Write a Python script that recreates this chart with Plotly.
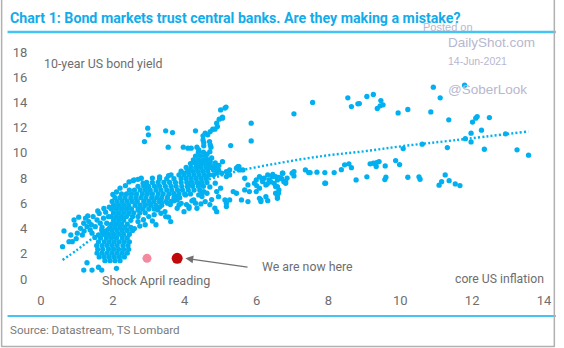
import plotly.graph_objects as go

# ---------------- data ----------------
# x = core US inflation, y = 10-year US bond yield
left_arm = [(0.64, 3.81), (0.60, 2.56), (0.92, 4.68), (0.95, 4.29), (0.83, 3.49), (0.87, 2.96),
            (1.01, 3.63), (1.10, 4.02), (1.15, 3.49), (1.19, 4.42), (1.24, 4.82), (1.33, 4.55),
            (1.37, 3.89), (1.28, 4.15), (1.42, 3.63), (1.51, 4.15), (1.56, 4.68), (1.65, 4.42),
            (1.74, 4.82), (1.83, 4.42), (1.88, 4.94), (1.69, 3.89), (1.60, 3.49), (1.79, 3.76),
            (1.92, 4.02), (0.78, 2.96), (1.05, 4.9), (1.45, 4.95), (1.62, 5.2), (1.8, 5.3),
            (1.2, 3.8), (1.5, 3.3), (1.7, 4.1), (0.98, 3.2), (1.4, 4.3), (1.58, 5.4), (1.75, 5.6),
            (1.9, 5.7), (1.3, 5.0)]
bottom_pts = [(1.19, 0.71), (1.28, 1.29), (1.42, 0.71), (1.60, 0.93), (1.69, 0.71), (2.10, 0.85)]

blob_rows = {
    1.45: [1.78, 1.92, 2.06, 2.2],
    1.75: [1.62, 1.76, 1.9, 2.04, 2.18, 2.32],
    2.05: [1.56, 1.7, 1.84, 1.98, 2.12, 2.26, 2.4],
    2.35: [1.58, 1.72, 1.88, 2.02, 2.16, 2.3, 2.44],
    2.65: [1.55, 1.7, 1.84, 1.98, 2.12, 2.28, 2.42],
    2.95: [1.6, 1.76, 1.9, 2.04, 2.18, 2.32, 2.46],
    3.25: [1.66, 1.82, 1.96, 2.1, 2.26, 2.4],
    3.55: [1.74, 1.88, 2.02, 2.16, 2.3, 2.46],
    3.85: [1.84, 1.98, 2.12, 2.26, 2.4, 2.55],
    4.1: [1.92, 2.06, 2.2, 2.34, 2.5],
}

band_rows = {
    4.35: [1.96, 2.1, 2.24, 2.4],
    4.65: [2.02, 2.16, 2.3, 2.5],
    4.95: [1.96, 2.1, 2.24, 2.38, 2.55, 2.7],
    5.25: [2.02, 2.16, 2.3, 2.44, 2.58, 2.75, 2.9],
    5.55: [1.96, 2.1, 2.24, 2.38, 2.52, 2.7, 2.84, 3.0, 3.15],
    5.85: [2.02, 2.16, 2.3, 2.44, 2.62, 2.76, 2.9, 3.06, 3.2, 3.36],
    6.15: [1.98, 2.12, 2.26, 2.4, 2.54, 2.68, 2.86, 3.0, 3.14, 3.3, 3.48, 3.62],
    6.45: [2.06, 2.2, 2.34, 2.5, 2.64, 2.78, 2.92, 3.08, 3.22, 3.36, 3.52, 3.7, 3.86],
    6.75: [2.24, 2.38, 2.52, 2.66, 2.82, 2.96, 3.1, 3.26, 3.4, 3.56, 3.7, 3.84, 4.0, 4.16],
    7.05: [2.46, 2.6, 2.76, 2.9, 3.04, 3.2, 3.34, 3.5, 3.64, 3.8, 3.94, 4.1, 4.26, 4.42],
    7.35: [2.7, 2.86, 3.0, 3.16, 3.3, 3.46, 3.62, 3.76, 3.92, 4.08, 4.22, 4.38, 4.52],
    7.65: [2.94, 3.1, 3.26, 3.42, 3.58, 3.74, 3.9, 4.06, 4.2, 4.34, 4.48, 4.62],
    7.95: [3.3, 3.5, 3.7, 3.9, 4.04, 4.18, 4.32, 4.46, 4.6],
    8.25: [3.62, 3.84, 3.98, 4.12, 4.26, 4.4, 4.54, 4.68],
    8.55: [3.9, 4.08, 4.22, 4.36, 4.5, 4.64],
    8.85: [4.04, 4.18, 4.32, 4.46, 4.6, 4.72],
    9.15: [4.16, 4.3, 4.44, 4.58, 4.7],
    9.45: [4.24, 4.38, 4.52, 4.66],
    9.75: [4.3, 4.44, 4.58],
    10.05: [4.38, 4.52],
}

band_edges = [(2.56, 7.8), (2.79, 7.99), (2.84, 7.6), (2.93, 7.33), (3.02, 7.06), (2.59, 7.86),
              (3.25, 5.48), (3.34, 5.21), (3.47, 4.95), (3.52, 6.01), (3.75, 6.54), (3.84, 5.87),
              (4.02, 6.67), (4.12, 5.74), (4.30, 6.01), (4.34, 5.61), (4.48, 6.54), (4.57, 6.14),
              (3.61, 4.55), (3.98, 5.34), (4.12, 5.61), (3.1, 4.6), (2.9, 4.3), (3.7, 6.2),
              (4.25, 6.27), (3.79, 5.61), (3.79, 6.27), (4.39, 6.67), (4.53, 6.93), (4.7, 5.9),
              (3.98, 8.39), (4.16, 8.65), (4.34, 8.91), (4.25, 9.31), (4.43, 9.31), (4.53, 9.18),
              (4.62, 9.44), (4.71, 9.05), (4.80, 8.65), (4.89, 8.39),
              (2.6, 4.0), (2.75, 4.2), (2.85, 4.7), (3.0, 4.95), (3.15, 5.1), (3.3, 5.7),
              (3.45, 5.35), (3.6, 5.9), (3.2, 4.3), (3.55, 4.9), (3.9, 6.0), (4.05, 5.9),
              (4.2, 6.2), (4.45, 5.95), (2.7, 4.55), (3.35, 6.1),
              (2.1, 6.9), (2.2, 7.2), (2.35, 7.4), (2.45, 7.7), (2.0, 6.7), (2.7, 7.9),
              (3.1, 8.0), (3.3, 8.1), (3.55, 8.2)]

upper_pts = [(2.88, 10.9), (2.97, 11.96), (2.99, 11.43), (3.47, 11.75), (3.66, 11.61), (3.54, 10.45),
             (3.96, 10.45), (4.09, 10.37), (4.18, 10.37), (4.34, 10.45), (4.39, 10.24), (4.30, 11.75),
             (4.51, 11.35), (4.57, 11.56), (4.64, 11.43), (4.71, 11.69), (4.78, 11.88), (4.84, 11.88),
             (4.89, 12.36), (4.91, 12.09), (4.96, 12.67), (5.05, 12.75), (5.05, 12.83), (5.0, 13.41),
             (5.12, 13.55), (5.15, 13.63), (4.53, 10.82), (4.51, 11.03), (4.69, 10.9), (4.53, 10.56),
             (4.71, 10.64), (4.73, 10.45), (5.28, 10.58), (5.85, 12.36), (5.85, 10.95), (7.04, 13.1),
             (7.56, 14.0)]

mid_pts = [(4.71, 9.31), (4.84, 8.91), (4.94, 8.65), (5.16, 8.52), (5.25, 8.25), (5.44, 8.78),
           (5.62, 8.65), (5.67, 7.99), (5.03, 8.39), (5.16, 8.12), (5.25, 8.65), (5.51, 8.91),
           (4.80, 8.25), (4.62, 8.12), (4.43, 7.59), (4.48, 6.8), (4.62, 6.8), (4.89, 6.93),
           (4.94, 6.53), (5.12, 6.27), (5.16, 5.74), (5.35, 6.93), (5.58, 6.27), (5.76, 7.46),
           (5.80, 6.93), (5.76, 6.14), (5.21, 8.44), (4.75, 9.6), (4.85, 9.2), (4.62, 9.9),
           (4.7, 10.1), (4.95, 9.0), (5.05, 9.3), (4.7, 7.3), (4.85, 7.6), (5.0, 7.2), (4.75, 6.3),
           (4.84, 5.61), (4.89, 5.34), (5.25, 6.27), (5.44, 6.8), (5.67, 7.06), (6.08, 6.4),
           (6.12, 6.14), (6.26, 6.53), (6.53, 6.8), (6.62, 7.06), (6.81, 7.59), (5.16, 6.0),
           (4.16, 7.6), (5.53, 8.65), (5.48, 8.9)]

right_group = [(5.94, 7.6), (5.99, 7.86), (6.08, 8.12), (6.17, 7.72), (6.21, 7.99), (6.31, 8.25),
               (6.35, 7.86), (6.44, 8.12), (6.49, 7.59), (6.58, 7.86), (6.67, 7.99), (6.73, 8.39),
               (6.76, 7.72), (6.53, 7.33), (6.26, 7.46), (6.08, 7.2), (6.12, 6.27), (6.31, 6.21),
               (6.58, 6.53), (5.99, 6.93), (6.53, 8.12), (6.72, 8.39), (6.81, 7.72), (6.58, 7.33),
               (6.61, 6.8), (6.58, 6.4), (6.0, 7.4), (6.15, 7.95), (6.4, 7.7), (6.62, 8.05),
               (6.3, 7.55), (6.45, 8.3), (6.7, 7.95), (6.85, 8.0), (6.99, 8.39), (7.04, 8.17),
               (7.36, 8.65), (7.49, 8.44), (7.04, 8.52), (7.45, 8.44)]

far_right = [(10.92, 15.21), (11.79, 15.37), (8.54, 14.37), (8.64, 13.67), (9.07, 14.47), (9.25, 14.63),
             (8.82, 13.89), (8.86, 13.91), (9.46, 14.15), (9.36, 13.52), (9.44, 13.73), (9.52, 13.81),
             (9.94, 13.17), (10.21, 13.44), (10.85, 13.25), (11.11, 14.37), (11.35, 12.62), (12.01, 12.44),
             (12.10, 12.75), (12.14, 12.88), (12.48, 12.80), (12.26, 11.80), (11.97, 11.56), (12.93, 11.51),
             (11.81, 11.13), (11.97, 10.87), (10.61, 10.69), (10.08, 10.34), (11.31, 10.42), (12.34, 10.29),
             (13.25, 10.24), (13.57, 9.82), (7.68, 8.47), (7.90, 8.44), (8.16, 8.44), (8.36, 8.67),
             (8.45, 9.05), (8.57, 9.13), (8.64, 8.83), (7.92, 7.60), (8.77, 7.86), (9.07, 8.10),
             (9.16, 9.13), (9.25, 9.18), (9.33, 8.92), (9.34, 9.23), (9.41, 9.31), (9.58, 8.97),
             (9.60, 8.07), (9.57, 7.88), (9.87, 9.39), (9.98, 9.07), (10.21, 8.07), (10.52, 8.10),
             (10.55, 7.91), (11.08, 7.44), (11.15, 7.72), (11.25, 8.25), (11.36, 7.80), (11.53, 7.54),
             (11.66, 7.41), (7.90, 7.6)]

# fitted (dotted) trend line
trend_x = [0.6, 1.0, 1.42, 2.0, 3.0, 4.0, 5.26, 6.6, 7.86, 9.0, 10.1, 11.5, 13.57]
trend_y = [1.5, 2.3, 3.2, 4.3, 5.9, 7.2, 8.4, 9.18, 9.76, 10.13, 10.55, 11.0, 11.7]

# highlighted readings
shock_x, shock_y = [2.95], [1.64]
now_x, now_y = [3.79], [1.64]

x_ticks = [0, 2, 4, 6, 8, 10, 12, 14]
y_ticks = [0, 2, 4, 6, 8, 10, 12, 14, 16, 18]

# ---------------- assemble ----------------
pts = left_arm + bottom_pts + band_edges + upper_pts + mid_pts + right_group + far_right
for yv, xs in blob_rows.items():
    pts += [(xv, yv) for xv in xs]
for yv, xs in band_rows.items():
    pts += [(xv, yv) for xv in xs]
sx = [p[0] for p in pts]
sy = [p[1] for p in pts]

BLUE = "#00B0F0"
W, H = 564, 348
ML, MR, MT, MB = 41, 12, 52, 69


def fx(p):
    return (p - ML) / (W - ML - MR)


def fy(p):
    return (H - MB - p) / (H - MT - MB)


fig = go.Figure()
fig.add_trace(go.Scatter(x=trend_x, y=trend_y, mode="lines",
                         line=dict(color=BLUE, width=2.4, dash="2px,2.2px", shape="spline"),
                         hoverinfo="skip"))
fig.add_trace(go.Scatter(x=sx, y=sy, mode="markers",
                         marker=dict(color=BLUE, size=5.3, line=dict(width=0))))
fig.add_trace(go.Scatter(x=shock_x, y=shock_y, mode="markers",
                         marker=dict(color="#F4899E", size=9, line=dict(width=0))))
fig.add_trace(go.Scatter(x=now_x, y=now_y, mode="markers",
                         marker=dict(color="#BE0A0A", size=11, line=dict(width=0))))

TXT = "#6e6e6e"
FONT = "Roboto, Liberation Sans, Arial, sans-serif"
axis_common = dict(showgrid=False, zeroline=False, showline=False, ticks="outside",
                   tickcolor="rgba(0,0,0,0)", tickfont=dict(size=13, color=TXT, family=FONT))
fig.update_xaxes(range=[0, 14], tickvals=x_ticks, ticklen=9, **axis_common)
fig.update_yaxes(range=[0, 18], tickvals=y_ticks, ticklen=10, **axis_common)


def label(text, x, y, anchor="left", size=13, color=TXT, family=FONT):
    return dict(text=text, xref="paper", yref="paper", x=fx(x), y=fy(y), xanchor=anchor,
                yanchor="middle", showarrow=False, font=dict(size=size, color=color, family=family))


ann = [
    label("<b>Chart 1: Bond markets trust central banks. Are they making a mistake?</b>", 7, 18,
          size=14.2, color="#12ACEB", family="Roboto, Liberation Sans, Arial"),
    label("10-year US bond yield", 42.5, 63, size=12.4),
    label("Shock April reading", 157.5, 280, anchor="center", size=12.6),
    label("core US inflation", 506.5, 279, anchor="center", size=12.2),
    label("We are now here", 263, 267, size=12.3),
    dict(text="", xref="x", yref="y", x=4.02, y=1.64, axref="x", ayref="y", ax=5.79, ay=0.93,
         showarrow=True, arrowhead=2, arrowsize=1.3, arrowwidth=1.2, arrowcolor="#707070"),
    label("Source: Datastream, TS Lombard", 7, 330, size=11.6, color="#7a7a7a"),
]
WM = "#B7B7CF"
WF = "Liberation Sans, Arial"
ann += [
    label("Posted on", 427, 27.5, size=11, color=WM, family=WF),
    label("DailyShot.com", 452.5, 43, size=13.5, color=WM, family=WF),
    label("14-Jun-2021", 452.5, 61, size=10.5, color=WM, family=WF),
    label("@SoberLook", 452.5, 89.5, size=13.5, color=WM, family=WF),
]

shapes = [
    dict(type="line", xref="paper", yref="paper", x0=fx(7), x1=fx(564), y0=fy(32), y1=fy(32),
         line=dict(color="#45C3F2", width=2.5)),
    dict(type="line", xref="paper", yref="paper", x0=fx(7), x1=fx(564), y0=fy(316), y1=fy(316),
         line=dict(color="#45C3F2", width=1.8)),
    dict(type="line", xref="paper", yref="paper", x0=fx(1), x1=fx(1), y0=fy(0), y1=fy(347),
         line=dict(color="#B0B0B0", width=1.5)),
    dict(type="line", xref="paper", yref="paper", x0=fx(562.5), x1=fx(562.5), y0=fy(0), y1=fy(347),
         line=dict(color="#B0B0B0", width=1.5)),
    dict(type="line", xref="paper", yref="paper", x0=fx(1), x1=fx(562.5), y0=fy(346.5), y1=fy(346.5),
         line=dict(color="#B0B0B0", width=1.5)),
]

fig.update_layout(width=W, height=H, margin=dict(l=ML, r=MR, t=MT, b=MB),
                  paper_bgcolor="white", plot_bgcolor="white", showlegend=False,
                  annotations=ann, shapes=shapes)
fig.write_html("out.html")
